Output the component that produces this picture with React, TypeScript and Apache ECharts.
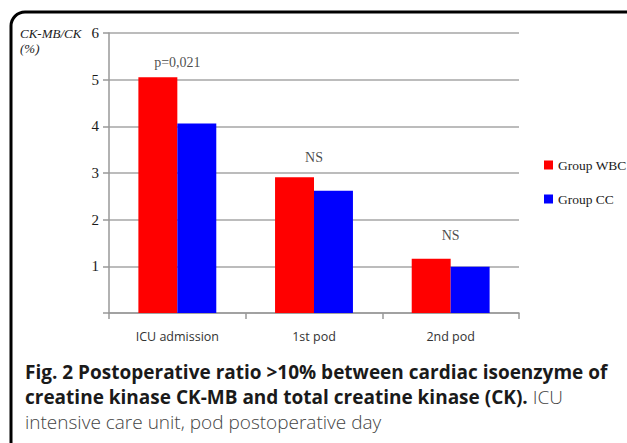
import React, { useEffect, useRef } from "react";
import * as echarts from "echarts";

const categories = ["ICU admission", "1st pod", "2nd pod"];
const groupWBC = [5.05, 2.91, 1.16];
const groupCC = [4.06, 2.62, 0.99];
const annotationY = [5.37, 3.34, 1.67];
const annotationText = ["p=0,021", "NS", "NS"];
const seriesNames = ["Group WBC", "Group CC"];

export default function App() {
  const ref = useRef<HTMLDivElement>(null);
  useEffect(() => {
    if (!ref.current) return;
    const chart = echarts.init(ref.current, null, { renderer: "svg" });
    const serif = "'Liberation Serif', 'Times New Roman', serif";
    chart.setOption({
      animation: false,
      backgroundColor: "#ffffff",
      grid: { left: 109, right: 108, top: 33, bottom: 130, containLabel: false },
      legend: {
        data: seriesNames,
        orient: "vertical",
        left: 544,
        top: 158,
        padding: 0,
        icon: "rect",
        itemWidth: 9,
        itemHeight: 9,
        itemGap: 20,
        textStyle: { fontFamily: serif, fontSize: 13.5, color: "#1a1a1a" },
      },
      xAxis: {
        type: "category",
        data: categories,
        axisLine: { lineStyle: { color: "#999", width: 1.5 } },
        axisTick: { show: true, length: 6, alignWithLabel: false, lineStyle: { color: "#999", width: 1.5 } },
        axisLabel: { fontFamily: "'Open Sans', sans-serif", fontSize: 12.5, color: "#333", margin: 17 },
      },
      yAxis: {
        type: "value",
        min: 0,
        max: 6,
        interval: 1,
        axisLine: { show: true, lineStyle: { color: "#999", width: 1.5 } },
        axisTick: { show: true, length: 6, lineStyle: { color: "#999", width: 1.5 } },
        splitLine: { show: true, lineStyle: { color: "#a6a6a6", width: 1.5 } },
        axisLabel: {
          fontFamily: serif,
          fontSize: 15,
          color: "#1a1a1a",
          margin: 10,
          formatter: (v: number) => (v === 0 ? "" : String(v)),
        },
      },
      series: [
        {
          name: seriesNames[0],
          type: "bar",
          data: groupWBC,
          itemStyle: { color: "#ff0000" },
          barGap: "0%",
          barCategoryGap: "43%",
        },
        {
          name: seriesNames[1],
          type: "bar",
          data: groupCC,
          itemStyle: { color: "#0000ff" },
        },
        {
          name: "annotations",
          type: "scatter",
          data: annotationY,
          symbolSize: 1,
          itemStyle: { color: "rgba(0,0,0,0)" },
          label: {
            show: true,
            position: "inside",
            formatter: (p: any) => annotationText[p.dataIndex],
            fontFamily: serif,
            fontSize: 14,
            color: "#1a1a1a",
          },
        },
      ],
      graphic: [
        {
          type: "rect",
          shape: { x: 11, y: 12, width: 700, height: 500, r: 14 },
          style: { fill: "none", stroke: "#000", lineWidth: 3 },
          silent: true,
        },
        {
          type: "text",
          left: 20,
          top: 26,
          style: {
            text: "CK-MB/CK\n(%)",
            fontFamily: serif,
            fontStyle: "italic",
            fontSize: 13,
            lineHeight: 15,
            fill: "#1a1a1a",
          },
        },
        {
          type: "text",
          left: 25,
          top: 362,
          style: {
            text:
              "{b|Fig. 2 Postoperative ratio >10% between cardiac isoenzyme of}\n{b|creatine kinase CK-MB and total creatine kinase (CK).}{n| ICU}\n{n|intensive care unit, pod postoperative day}",
            rich: {
              b: {
                fontFamily: "'Open Sans', sans-serif",
                fontWeight: "bold",
                fontSize: 19,
                lineHeight: 25,
                fill: "#1a1a1a",
              },
              n: {
                fontFamily: "'Open Sans', sans-serif",
                fontWeight: 300,
                fontSize: 19,
                lineHeight: 25,
                fill: "#444",
              },
            },
          },
        },
      ],
    });
    return () => chart.dispose();
  }, []);
  return (
    <div
      ref={ref}
      style={{ position: "fixed", left: 0, top: 0, width: 627, height: 443, background: "#fff" }}
    />
  );
}
